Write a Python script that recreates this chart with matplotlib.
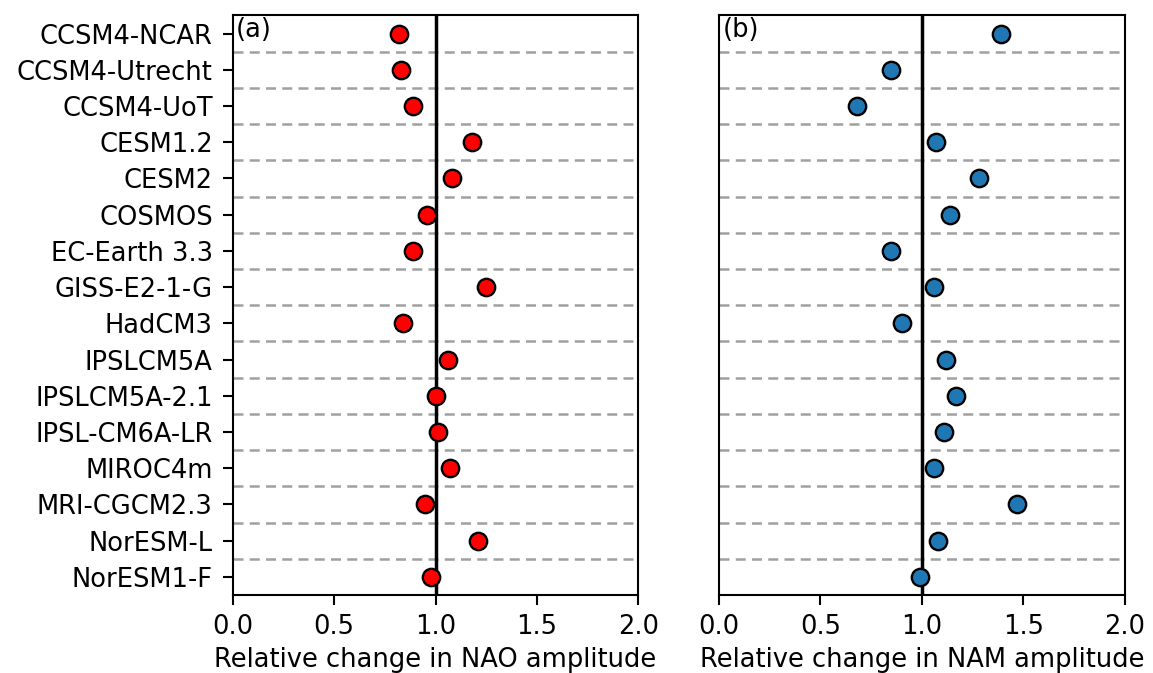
import numpy as np
import matplotlib
matplotlib.use('Agg')
import matplotlib.pyplot as plt

models = ['CCSM4-NCAR', 'CCSM4-Utrecht', 'CCSM4-UoT', 'CESM1.2', 'CESM2', 'COSMOS',
          'EC-Earth 3.3', 'GISS-E2-1-G', 'HadCM3', 'IPSLCM5A', 'IPSLCM5A-2.1',
          'IPSL-CM6A-LR', 'MIROC4m', 'MRI-CGCM2.3', 'NorESM-L', 'NorESM1-F']

nao_change = [0.82, 0.83, 0.89, 1.18, 1.08, 0.96, 0.89, 1.25, 0.84, 1.06, 1.00,
              1.01, 1.07, 0.95, 1.21, 0.98]
nam_change = [1.39, 0.85, 0.68, 1.07, 1.28, 1.14, 0.85, 1.06, 0.90, 1.12, 1.17,
              1.11, 1.06, 1.47, 1.08, 0.99]

panel_labels = ['(a)', '(b)']
xlabels = ['Relative change in NAO amplitude', 'Relative change in NAM amplitude']
colors = ['red', '#1f77b4']

fs = 18.5
fig = plt.figure(figsize=(11.53, 6.73), dpi=100)
ax1 = fig.add_axes([0.202, 0.116, 0.3515, 0.861])
ax2 = fig.add_axes([0.6236, 0.116, 0.352, 0.861])

ypos = np.arange(len(models))
for ax, vals, lab, xl, col in zip([ax1, ax2], [nao_change, nam_change],
                                  panel_labels, xlabels, colors):
    for k in range(len(models) - 1):
        ax.axhline(k + 0.5, color='#a0a0a0', ls='--', lw=1.8, dashes=(4, 2.5), zorder=1)
    ax.axvline(1.0, color='k', lw=2.5, zorder=2)
    ax.plot(vals, ypos, 'o', color=col, markeredgecolor='k', markersize=12.5,
            markeredgewidth=1.7, zorder=3)
    ax.set_xlim(0, 2)
    ax.set_ylim(len(models) - 0.5, -0.5)
    ax.set_xticks([0, 0.5, 1.0, 1.5, 2.0])
    ax.set_xticklabels(['0.0', '0.5', '1.0', '1.5', '2.0'])
    ax.tick_params(labelsize=fs, width=1.5, length=7.5)
    ax.tick_params(axis='x', pad=6)
    ax.tick_params(axis='y', pad=7)
    ax.set_xlabel(xl, fontsize=fs, labelpad=5)
    ax.text(0.008, 0.998, lab, transform=ax.transAxes, fontsize=fs, va='top', ha='left')
    for s in ax.spines.values():
        s.set_linewidth(1.5)

ax1.set_yticks(ypos)
ax1.set_yticklabels(models)
ax2.set_yticks([])

fig.savefig('out.png', dpi=100)
